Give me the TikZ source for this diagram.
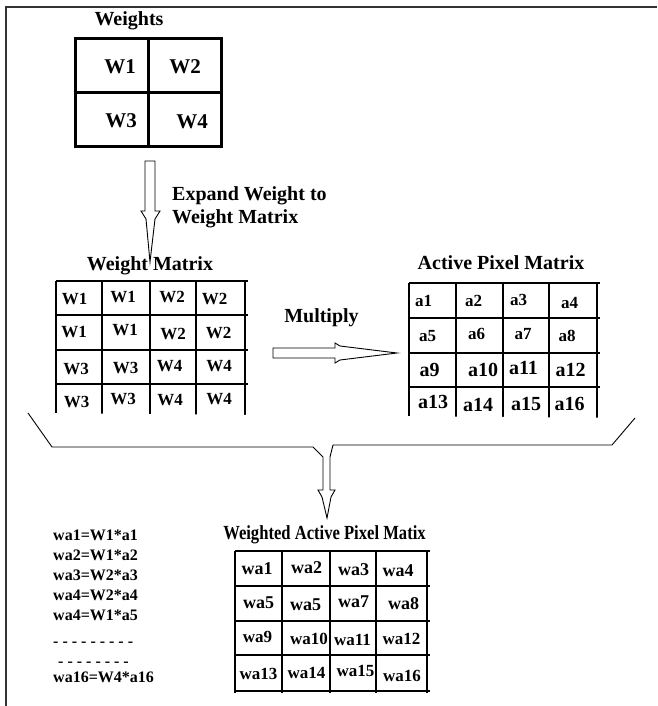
\documentclass[tikz,border=0pt]{standalone}
\usepackage{fontspec}
\setmainfont{Liberation Serif}
\begin{document}
\begin{tikzpicture}[x=1pt,y=-1pt,
  txt/.style={inner sep=0pt, text depth=0pt},
  title/.style={txt, text height=13.2pt, font=\bfseries\fontsize{20}{22}\selectfont},
  bigcell/.style={txt, text height=13.9pt, font=\bfseries\fontsize{21}{23}\selectfont},
  cellS/.style={txt, text height=11.2pt, font=\bfseries\fontsize{17}{19}\selectfont},
  cellL/.style={txt, text height=13.2pt, font=\bfseries\fontsize{20}{22}\selectfont},
  cellM/.style={txt, text height=11.9pt, font=\bfseries\fontsize{18}{20}\selectfont},
  eqline/.style={txt, text height=10.6pt, anchor=west, font=\bfseries\fontsize{16}{18}\selectfont},
  gridline/.style={line width=1.4pt},
  thickgrid/.style={line width=3pt},
  blockarrow/.style={line width=0.9pt, fill=white, line join=miter},
  bracket/.style={line width=0.9pt},
]
\useasboundingbox (0,0) rectangle (657,706);

% frame
\draw[line width=1.2pt, black!80] (6,706) -- (6,7) -- (657,7);

% --- Weights 2x2 ---
\node[title] (wtitle) at (129,18.5) {Weights};
\draw[thickgrid] (75,39) rectangle (221,146);
\draw[thickgrid] (148,39) -- (148,146);
\draw[thickgrid] (75,93) -- (221,93);
\node[bigcell] (w1) at (120,66.5) {W1};
\node[bigcell] (w2) at (185,66.5) {W2};
\node[bigcell] (w3) at (121,120.5) {W3};
\node[bigcell] (w4) at (192,122) {W4};

% expand arrow
\draw[blockarrow] (145,161) -- (155,161) -- (155,211) -- (160,211) -- (155,219)
  -- (150,262) -- (146,219) -- (141,211) -- (145,211) -- cycle;
\node[title, anchor=west] (exp1) at (172,194) {Expand Weight to};
\node[title, anchor=west] (exp2) at (172,217) {Weight Matrix};

% --- Weight matrix 4x4 ---
\node[title] (wmtitle) at (150,264) {Weight Matrix};
\foreach \x in {56,102,150,196,245} \draw[gridline] (\x,281) -- (\x,423);
\foreach \y in {281,315,350,384,420} \draw[gridline] (56,\y) -- (248,\y);
\foreach \t/\x/\y [count=\i] in {
  W1/74.5/298.5, W1/123/296.5, W2/172/297, W2/214.5/299,
  W1/74/331.5, W1/125/330, W2/173/334, W2/218.5/333,
  W3/76/368.5, W3/125.5/368, W4/169.5/366, W4/219/366,
  W3/76.5/401.5, W3/123/398.5, W4/170/400, W4/219/399}
  \node[cellS] (wm\i) at (\x,\y) {\t};

% multiply arrow
\node[title] (mult) at (321.5,316) {Multiply};
\draw[blockarrow] (273,348) -- (335,348) -- (335,343) -- (340,346) -- (397,353)
  -- (340,360) -- (335,363) -- (335,358) -- (273,358) -- cycle;

% --- Active pixel matrix 4x4 ---
\node[title] (aptitle) at (501,262.5) {Active Pixel Matrix};
\foreach \x in {409,456,503,549,597} \draw[gridline] (\x,283) -- (\x,425);
\foreach \y in {283,318,353,387,423} \draw[gridline] (409,\y) -- (600,\y);
\foreach \t/\x/\y [count=\i] in {
  a1/423.5/300.5, a2/473.5/300.5, a3/518.5/300, a4/569.5/303,
  a5/427.5/336, a6/476.5/333.5, a7/523/333.5, a8/567/336}
  \node[cellS] (ap\i) at (\x,\y) {\t};
\foreach \t/\x/\y [count=\i from 9] in {
  a9/429.5/370, a10/483/370, a11/523.5/367.5, a12/570.5/370,
  a13/433/401.5, a14/478/405, a15/526/403.5, a16/569.5/403.5}
  \node[cellL] (ap\i) at (\x,\y) {\t};

% bracket joining both matrices, with the result arrow
\draw[bracket, fill=white, line join=miter] (28,413) -- (52,447) -- (313,447) -- (323,457)
  -- (323,490) -- (318,490) -- (322,497) -- (327,518) -- (331,497) -- (335,490)
  -- (330,490) -- (330,457) -- (333,445) -- (612,445) -- (635,418);

% --- Weighted active pixel matrix 4x4 ---
\node[title, xscale=0.83] (watitle) at (324.5,533) {Weighted Active Pixel Matix};
\foreach \x in {235,282,330,376,427} \draw[gridline] (\x,551) -- (\x,693);
\foreach \y in {551,586,621,655,691} \draw[gridline] (235,\y) -- (430,\y);
\foreach \t/\x/\y [count=\i] in {
  wa1/257/568.5, wa2/306.5/568, wa3/353.5/570, wa4/398/571,
  wa5/258.5/603, wa5/305.5/604.5, wa7/353.5/602, wa8/403.5/604}
  \node[cellM] (wa\i) at (\x,\y) {\t};
\foreach \t/\x/\y [count=\i from 9] in {
  wa9/257.5/636.5, wa10/309/639, wa11/352.5/639.5, wa12/401.5/639,
  wa13/258.5/674, wa14/306.5/672.5, wa15/355.5/671, wa16/402/676}
  \node[cellS] (wa\i) at (\x,\y) {\t};

% element-wise products
\node[eqline] (eq1) at (53,535) {wa1=W1*a1};
\node[eqline] (eq2) at (53,555) {wa2=W1*a2};
\node[eqline] (eq3) at (53,575.5) {wa3=W2*a3};
\node[eqline] (eq4) at (53,595) {wa4=W2*a4};
\node[eqline] (eq5) at (53,615) {wa4=W1*a5};
\node[eqline] (dots1) at (53,641) {- - - - - - - - -};
\node[eqline] (dots2) at (58,661) {- - - - - - - -};
\node[eqline] (eq16) at (53,677.5) {wa16=W4*a16};
\end{tikzpicture}
\end{document}
